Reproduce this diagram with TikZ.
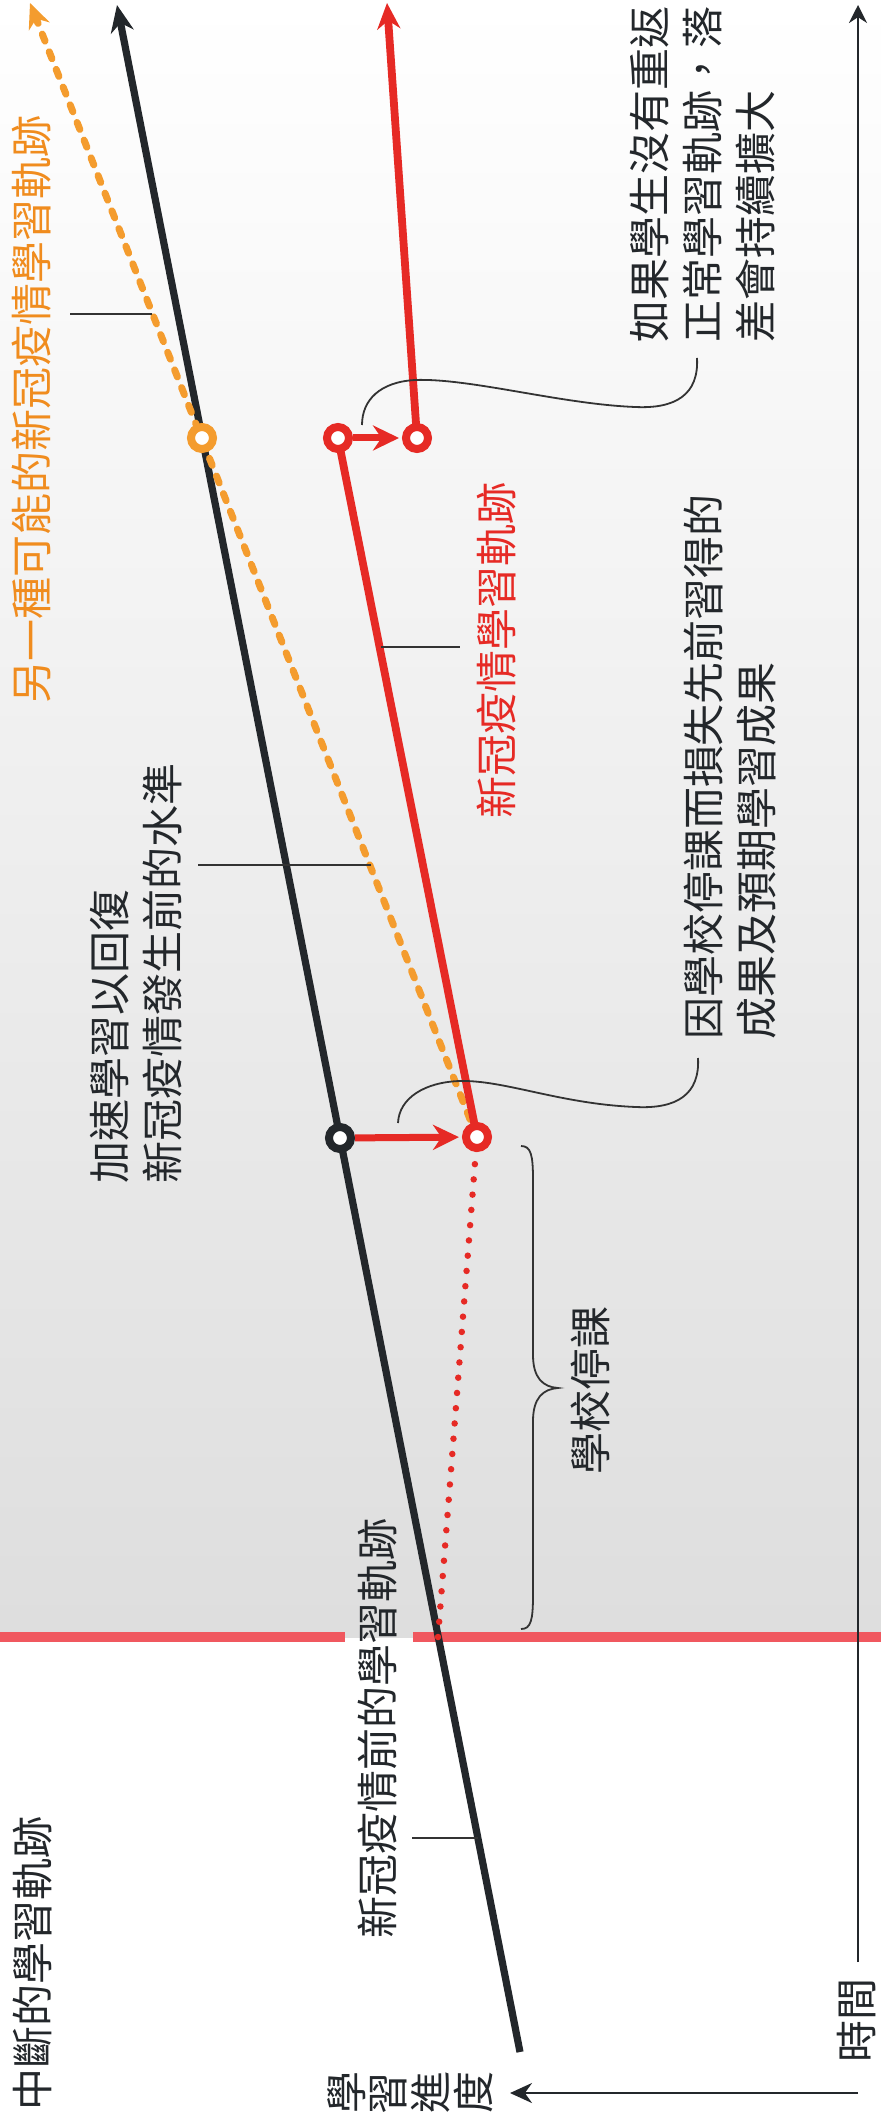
\documentclass[tikz,border=0pt]{standalone}
\usepackage{fontspec}
\setmainfont{Noto Sans CJK TC}
\usetikzlibrary{arrows.meta}
\definecolor{cblack}{HTML}{23272B}
\definecolor{cred}{HTML}{E62A25}
\definecolor{corange}{HTML}{F49C2E}
\definecolor{cotext}{HTML}{F08C1E}
\definecolor{cpink}{HTML}{F0585F}
\definecolor{clead}{HTML}{333333}
\newcommand\rotch[1]{\makebox[11.95pt]{\rotatebox[origin=c]{90}{#1}}}
\begin{document}
\begin{tikzpicture}[x=0.1mm,y=-0.1mm,
  lbl/.style={inner sep=0pt, outer sep=0pt, rotate=90, align=left,
    font=\fontsize{11.95}{15.1}\selectfont, text=cblack},
  pinkline/.style={draw=cpink, line width=1mm},
  blackline/.style={draw=cblack, line width=0.72mm, -{Stealth[length=2.7mm,width=2.3mm]}},
  redline/.style={draw=cred, line width=0.78mm},
  reddot/.style={draw=cred, line width=0.65mm, line cap=round, dash pattern=on 0pt off 1.53mm},
  orangeline/.style={draw=corange, line width=0.7mm, line cap=round, dash pattern=on 0.75mm off 1.15mm,
    -{Stealth[length=2.5mm,width=2.2mm]}},
  redarrow/.style={draw=cred, line width=0.7mm, shorten >=0.3mm, -{Stealth[length=2.6mm,width=2.5mm]}},
  ringK/.style={circle, draw=cblack, fill=white, line width=0.8mm, minimum size=2.2mm, inner sep=0pt},
  ringR/.style={ringK, draw=cred},
  ringO/.style={ringK, draw=corange},
  leader/.style={draw=clead, line width=0.15mm},
  axis/.style={draw=cblack, line width=0.25mm},
]
\useasboundingbox (0,0) rectangle (881,2121);
\fill[white] (0,0) rectangle (881,2121);
\shade[top color=white, middle color=black!7, bottom color=black!13] (0,0) rectangle (881,1637);

% school-closure line
\coordinate (pkL) at (0,1637);
\coordinate (pkA) at (345,1637);
\coordinate (pkB) at (413,1637);
\coordinate (pkR) at (881,1637);
\draw[pinkline] (pkL) -- (pkA);
\draw[pinkline] (pkB) -- (pkR);

% key points
\coordinate (b0) at (520,2052);
\coordinate (b1) at (117,5);
\coordinate (cross) at (438,1637);
\coordinate (o1) at (30,3);
\coordinate (r1) at (387,3);
\coordinate (pBC) at (340,1138);
\coordinate (pRC) at (477,1137);
\coordinate (pOC) at (202,438);
\coordinate (pRA) at (338,438);
\coordinate (pRB) at (417,438);

% trajectories
\draw[blackline] (b0) -- (b1);
\draw[orangeline] (pRC) -- (o1);
\draw[reddot] (cross) -- (pRC);
\draw[redline] (pRC) -- (pRA);
\draw[redline, -{Stealth[length=2.6mm,width=2.3mm]}] (pRB) -- (r1);

% circles
\node[ringK] (bc) at (pBC) {};
\node[ringR] (rc) at (pRC) {};
\node[ringO] (oc) at (pOC) {};
\node[ringR] (ra) at (pRA) {};
\node[ringR] (rb) at (pRB) {};
\draw[redarrow] (bc) -- (rc);
\draw[redarrow] (ra) -- (rb);

% axes
\coordinate (tA) at (858,1962);
\coordinate (tB) at (858,5);
\draw[axis, -{Stealth[length=1.8mm,width=1.8mm]}] (tA) -- (tB);
\coordinate (pA) at (858,2093);
\coordinate (pB) at (510,2093);
\draw[axis, -{Stealth[length=2.2mm,width=2mm]}] (pA) -- (pB);

% labels
\node[lbl, text=cotext] (otxt) at (32,410) {另一種可能的新冠疫情學習軌跡};
\node[lbl] (annTop) at (703,175) {如果學生沒有重返\\正常學習軌跡，落\\差會持續擴大};
\node[lbl, text=cred] (rtxt) at (497,651) {新冠疫情學習軌跡};
\node[lbl] (annLow) at (730,767) {因學校停課而損失先前習得的\\成果及預期學習成果};
\node[lbl] (annLeft) at (136,973) {加速學習以回復\\新冠疫情發生前的水準};
\node[lbl] (closeTxt) at (590,1390) {學校停課};
\node[lbl] (btxt) at (378,1728) {新冠疫情前的學習軌跡};
\node[lbl] (title) at (33,1963) {中斷的學習軌跡};
\node[lbl] (timeTxt) at (857,2020) {時間};
\node[inner sep=0pt, outer sep=0pt, font=\fontsize{11.95}{15.1}\selectfont, text=cblack] (progTxt) at (410,2093)
  {\rotch{學}\rotch{習}\rotch{進}\rotch{度}};

% leaders
\coordinate (oLa) at (70,314);   \coordinate (oLb) at (152,314);
\draw[leader] (oLa) -- (oLb);
\coordinate (aLa) at (198,865);  \coordinate (aLb) at (371,865);
\draw[leader] (aLa) -- (aLb);
\coordinate (rLa) at (381,647);  \coordinate (rLb) at (460,647);
\draw[leader] (rLa) -- (rLb);
\coordinate (kLa) at (412,1838); \coordinate (kLb) at (478,1838);
\draw[leader] (kLa) -- (kLb);

% curved leaders
\coordinate (cA1) at (697,358); \coordinate (cA2) at (362,425);
\draw[leader, line width=0.18mm] (cA1) .. controls (699,395) and (675,409) .. (635,407)
  .. controls (560,404) and (470,378) .. (415,380)
  .. controls (380,382) and (362,400) .. (cA2);
\coordinate (cB1) at (698,1058); \coordinate (cB2) at (398,1123);
\draw[leader, line width=0.18mm] (cB1) .. controls (700,1095) and (676,1109) .. (636,1107)
  .. controls (560,1104) and (505,1080) .. (460,1081)
  .. controls (425,1082) and (399,1098) .. (cB2);

% brace
\draw[leader, line width=0.18mm] (521,1146) .. controls (531,1146) and (533,1155) .. (533,1180)
  -- (533,1355) .. controls (533,1378) and (543,1387) .. (558,1388)
  .. controls (543,1389) and (533,1398) .. (533,1421)
  -- (533,1595) .. controls (533,1620) and (531,1629) .. (521,1629);
\end{tikzpicture}
\end{document}
